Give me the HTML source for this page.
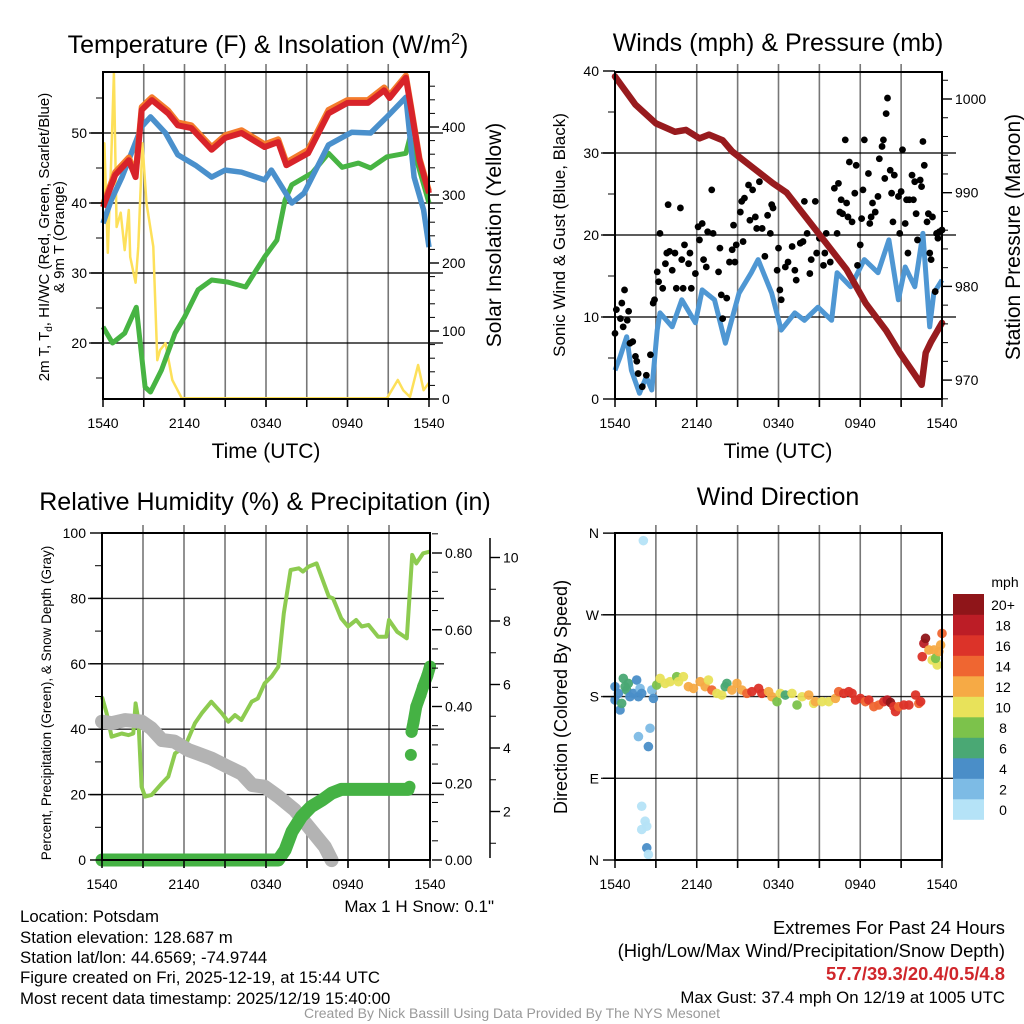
<!DOCTYPE html>
<html><head><meta charset="utf-8"><style>
html,body{margin:0;padding:0;background:#fff;}
svg{display:block;font-family:"Liberation Sans",sans-serif;}
</style></head><body>
<svg id="svg" width="1024" height="1024" viewBox="0 0 1024 1024" xmlns="http://www.w3.org/2000/svg">
<rect width="1024" height="1024" fill="#fff"/>
<g id="g1"></g>
<g id="g2"></g>
<g id="g3"></g>
<g id="g4"></g>
<g id="txt" font-size="16.8" fill="#000">
<text x="268" y="53" font-size="25" text-anchor="middle">Temperature (F) &amp; Insolation (W/m<tspan dy="-9" font-size="16">2</tspan><tspan dy="9">)</tspan></text>
<text x="778" y="51" font-size="25" text-anchor="middle">Winds (mph) &amp; Pressure (mb)</text>
<text x="265" y="510" font-size="25" text-anchor="middle">Relative Humidity (%) &amp; Precipitation (in)</text>
<text x="778" y="505" font-size="25" text-anchor="middle">Wind Direction</text>
<text x="266" y="458" font-size="21" text-anchor="middle">Time (UTC)</text>
<text x="778" y="458" font-size="21" text-anchor="middle">Time (UTC)</text>
<text transform="translate(49,237) rotate(-90)" font-size="15" text-anchor="middle">2m T, T<tspan font-size="10" dy="3">d</tspan><tspan dy="-3">, HI/WC (Red, Green, Scarlet/Blue)</tspan></text>
<text transform="translate(64,237) rotate(-90)" font-size="15" text-anchor="middle">&amp; 9m T (Orange)</text>
<text transform="translate(501,235) rotate(-90)" font-size="21" text-anchor="middle">Solar Insolation (Yellow)</text>
<text transform="translate(565,235) rotate(-90)" font-size="17" text-anchor="middle">Sonic Wind &amp; Gust (Blue, Black)</text>
<text transform="translate(1020,237) rotate(-90)" font-size="21" text-anchor="middle">Station Pressure (Maroon)</text>
<text transform="translate(51,703) rotate(-90)" font-size="13.5" text-anchor="middle">Percent, Precipitation (Green), &amp; Snow Depth (Gray)</text>
<text transform="translate(567,697) rotate(-90)" font-size="18" text-anchor="middle">Direction (Colored By Speed)</text>
<text x="494" y="912" font-size="17" text-anchor="end">Max 1 H Snow: 0.1"</text>
<text x="20" y="922">Location: Potsdam</text>
<text x="20" y="943">Station elevation: 128.687 m</text>
<text x="20" y="963">Station lat/lon: 44.6569; -74.9744</text>
<text x="20" y="983">Figure created on Fri, 2025-12-19, at 15:44 UTC</text>
<text x="20" y="1004">Most recent data timestamp: 2025/12/19 15:40:00</text>
<text x="1005" y="934" font-size="18.4" text-anchor="end">Extremes For Past 24 Hours</text>
<text x="1005" y="957" font-size="18.4" text-anchor="end">(High/Low/Max Wind/Precipitation/Snow Depth)</text>
<text x="1005" y="980" font-size="18.4" font-weight="bold" fill="#d0262b" text-anchor="end">57.7/39.3/20.4/0.5/4.8</text>
<text x="1005" y="1003" font-size="16.8" text-anchor="end">Max Gust: 37.4 mph On 12/19 at 1005 UTC</text>
<text x="512" y="1018" font-size="14" fill="#999" text-anchor="middle">Created By Nick Bassill Using Data Provided By The NYS Mesonet</text>
</g>
</svg>
<script>
// ---------- data ----------
const tempHours = [0,0.9,1.9,2.4,2.85,3.6,4.8,5.5,6.5,8,9,10.2,11.9,12.9,13.5,15.1,16.6,18,19.5,20.7,21.1,22.3,22.7,23.3,24];
const tempValues = [39.4,44,46.1,43.7,53.3,54.7,52.8,51.1,50.7,47.6,49.3,50,48,48.7,45.4,47.1,52.8,54.3,54.3,56.1,55,57.9,53.3,46.1,41.4];
const temp9mValues = [39.8,44.4,46.5,44.1,53.7,55.1,53.2,51.5,51.1,48,49.7,50.4,48.4,49.1,45.8,47.6,53.3,54.7,54.7,56.5,55.4,58.2,53.6,46.4,41.7];
const chillHours = [0,0.6,1.4,2.85,3.5,4.6,5.5,6.8,8,9,10.2,11.9,12.4,13.9,14.8,16.6,18.3,19.7,20.9,22.3,22.9,23.6,24];
const chillValues = [37.1,40.4,43.7,50.9,52.3,50,46.9,45.4,43.7,44.7,44.4,43.3,44.7,40,41.4,48.3,50.1,50,52.3,55.1,43.7,39,33.7];
const dewHours = [0,0.7,1.6,2.45,3.1,3.5,4.3,5.3,6,7,8,9.2,10.5,11.9,12.8,13.4,13.9,15.4,16.6,17.6,18.8,19.7,20.9,22.3,22.6,24];
const dewValues = [22.3,20,21.4,25.1,13.7,13,16.1,21.4,23.7,27.6,29,28.7,28,32.3,34.7,40.4,42.6,44.3,47.1,45.1,45.7,45,46.6,47.1,49.4,40];
const solarHours = [0,0.1,0.35,0.6,0.8,1.0,1.3,1.6,1.9,2.0,2.4,2.6,2.9,3.2,3.7,4.0,4.2,4.6,5.1,5.8,20.9,21.7,22.1,22.6,23.2,23.6,24];
const solarValues = [282,376,215,351,479,253,274,219,278,209,171,224,376,288,224,57,72,82,28,1,1,28,13,3,50,13,24];

const presHours = [0,0.7,1.5,3,4.4,5.2,6.2,6.9,7.9,8.6,10.1,11.6,12.6,14,15.5,17,18.4,19.9,20.9,21.9,22.5,22.8,23.2,24];
const presValues = [1002.4,1001,999.4,997.4,996.5,996.7,995.8,996.2,995.6,994.4,992.7,991,990,987.4,984.6,981.8,978.2,975.3,972.9,970.8,969.5,972.9,974.1,976.1];
const windHours = [0,0.37,0.86,1.2,1.8,2.3,2.7,3.1,3.3,4.2,4.9,5.9,6.4,7.3,8.1,9.1,10,10.5,11.5,12.2,13.2,13.9,14.9,15.9,16.3,17.3,18.3,19.3,20.1,20.8,21.3,22,22.6,23.1,23.4,24];
const windValues = [3.5,5.1,7.6,3.5,0.7,2.7,1.1,8.4,10.5,8.8,12.1,9.3,13.3,12.1,6.8,12.9,15.4,17,12.9,8.4,10.5,9.6,11.2,9.6,15.4,13.7,17,15.4,19.4,12.1,16.1,13.7,20.2,8.8,12.9,14.5];
const gustHours = [0,0.1,0.4,0.6,0.5,0.7,0.9,1.0,1.1,1.3,1.5,1.6,1.7,2.0,2.3,2.6,2.8,2.9,3.1,3.2,3.3,3.5,3.7,3.8,3.9,4.0,4.2,4.4,4.5,4.8,4.9,5.0,5.1,5.4,5.5,5.6,5.9,6.1,6.2,6.4,6.5,6.7,6.8,7.1,7.2,7.6,7.7,7.8,7.9,8.2,8.4,8.6,8.7,8.8,8.9,9.2,9.3,9.4,9.5,9.8,9.9,10.1,10.3,10.4,10.6,10.8,11.0,11.2,11.4,11.5,11.6,11.9,12.0,12.1,12.2,12.5,12.7,13.0,13.2,13.3,13.6,13.8,13.9,14.1,14.3,14.4,14.7,14.8,15.0,15.3,15.4,15.5,15.8,16.1,16.3,16.4,16.5,16.6,16.7,16.9,17.0,17.1,17.2,17.4,17.6,17.7,17.8,18.0,18.1,18.2,18.3,18.6,18.7,18.8,18.9,19.1,19.3,19.4,19.6,19.7,19.8,19.9,20.0,20.2,20.3,20.4,20.5,20.8,20.9,21.0,21.1,21.3,21.4,21.5,21.6,21.8,21.9,22.0,22.1,22.2,22.4,22.5,22.6,22.7,22.9,23.0,23.1,23.2,23.3,23.5,23.6,23.7,23.8,24.0];
const gustValues = [8.0,10.9,9.8,8.8,11.7,13.3,9.6,10.7,6.8,7.0,5.2,4.6,3.1,1.5,2.9,5.4,11.7,12.1,15.5,14.3,20.2,13.5,16.5,17.8,23.7,18.0,15.7,17.8,13.5,23.3,17.0,13.5,18.8,16.5,17.8,13.5,15.3,21.0,19.4,21.4,17.0,16.1,20.4,25.5,20.2,15.5,18.4,12.7,9.8,12.3,16.7,18.2,21.2,16.7,18.8,22.8,24.1,19.2,24.5,26.1,21.8,25.5,22.2,20.8,26.5,20.8,17.4,22.4,20.2,23.7,23.3,15.7,18.4,13.3,12.1,16.1,16.7,18.6,15.7,14.5,19.0,19.2,24.1,20.2,15.3,17.0,24.1,17.8,19.6,16.3,17.8,20.2,16.7,25.7,20.2,26.3,22.8,24.3,22.6,31.6,23.9,22.2,28.9,21.6,25.1,28.5,16.3,18.8,22.0,25.5,31.6,27.5,21.4,22.2,23.9,22.8,24.7,29.3,30.8,31.6,26.9,34.8,36.7,27.9,25.1,21.6,27.3,24.7,20.2,25.3,30.4,21.4,24.3,17.8,24.3,27.3,24.3,26.5,22.6,19.4,26.7,25.9,31.4,28.5,21.6,22.6,17.8,17.0,22.2,13.1,20.2,19.6,20.4,20.6];

const rhHours = [0,0.34,0.7,1.44,1.93,2.29,2.46,2.66,2.9,3.15,3.63,4.37,4.85,5.34,6.07,6.8,7.3,8,8.76,9.24,9.73,10.2,10.95,11.4,11.9,12.4,12.9,13.3,13.8,14.4,14.7,15.1,15.7,16.6,16.9,17.5,18,18.6,19,19.5,20.2,20.8,21,21.6,22.3,22.7,23,23.5,24];
const rhValues = [49.9,44.9,37.7,38.7,38.2,38.7,47.9,42.8,22.4,19.4,19.9,23.4,25.5,32.6,34.7,41.8,44.9,48.4,44.9,42.3,44.3,42.8,48.4,49.4,54,56.1,59.1,75.4,88.7,89.2,88.2,89.7,90.7,80.5,80,73.9,71.4,73.4,71.4,71.9,68.3,68.3,73.4,69.8,67.8,93.3,90.7,93.8,94.3];
const precipHours = [0,2,4,6,8,10,12,12.9,13.4,13.9,14.6,15.3,16.1,16.8,17.5,19,20.5,22.4];
const precipValues = [0,0,0,0,0,0,0,0,0.026,0.074,0.113,0.139,0.156,0.174,0.184,0.184,0.184,0.184];
const precipLateHours = [22.5,22.6,22.65,22.8,23.0,23.3,23.5,23.8,24];
const precipLateValues = [0.191,0.274,0.334,0.36,0.4,0.43,0.452,0.48,0.504];
const snowHours = [0,0.7,1.7,2.9,3.6,4.4,5.3,6.3,7.0,8.0,9.2,10.2,11.0,11.9,12.9,14.1,15.3,16.3,16.8];
const snowValues = [4.83,4.78,4.88,4.83,4.62,4.25,4.2,3.94,3.83,3.67,3.41,3.2,2.83,2.78,2.47,2.05,1.42,0.89,0.47];

const dirHours = [2.08,0,0,0.25,0.37,0.49,0.61,0.74,0.86,0.98,1.1,1.35,1.59,1.72,1.84,1.96,2.7,2.82,1.72,2.57,2.45,1.96,2.21,2.33,1.96,2.33,2.45,3.06,3.31,3.68,4.04,4.53,4.66,5.02,5.39,5.76,6.25,6.62,6.86,7.11,7.48,7.84,8.09,8.21,8.58,8.95,9.31,9.68,10.05,10.54,10.78,11.27,11.52,11.89,12.13,12.5,12.99,13.36,13.73,14.22,14.58,14.71,15.2,15.69,16.18,16.42,16.79,17.16,17.4,17.65,18.01,18.38,18.63,19.0,19.36,19.73,19.98,20.22,20.47,20.59,20.83,21.2,21.57,22.06,22.3,22.43,22.55,22.67,22.79,23.04,23.41,23.28,23.65,23.53,23.77,23.9,24];
const dirValues = [351.7,190.9,176.2,183.5,165.2,172.5,200,190.9,187.2,194.5,179.8,183.5,198.2,179.8,189.0,183.5,187.2,178.0,135.9,145.1,124.9,59.2,42.7,37.2,33.6,13.4,6.1,192.7,200,194.5,196.4,201.9,196.4,201.9,190.9,189.0,196.4,190.9,198.2,187.2,183.5,181.7,190.9,194.5,187.2,194.5,187.2,183.5,185.4,189.0,183.5,185.4,179.8,174.4,183.5,181.7,183.5,170.7,179.8,181.7,172.5,174.4,174.4,174.4,178.0,185.4,183.5,185.4,183.5,176.2,178.0,174.4,176.2,168.9,170.7,174.4,176.2,173.5,168.9,163.4,168.9,170.7,170.7,181.7,172.5,174.4,223.9,238.6,244.1,231.3,231.3,220.3,214.8,222.1,229.5,236.8,249.6];
const dirSpeeds = [0,4,4,4,4,6,6,6,6,6,4,4,4,4,2,4,2,4,2,2,4,0,0,0,0,4,0,8,10,10,10,8,10,10,12,12,12,12,10,14,10,10,6,6,12,12,12,14,16,16,16,12,12,8,10,6,10,8,10,12,10,12,10,10,12,14,16,16,16,16,16,14,16,14,14,16,18,20,16,16,14,16,16,16,14,16,16,18,20,12,12,10,10,8,12,12,14];
const speedLabels = ["0","2","4","6","8","10","12","14","16","18","20+"];
const speedColors = ["#b5e3f7","#7dbbe5","#4a8ec8","#4aa874","#7cc24b","#e8e25a","#f6aa45","#ef6631","#dc3329","#bc1d26","#8f1519"];

// ---------- helpers ----------
const NS = "http://www.w3.org/2000/svg";
function mk(parent, tag, attrs) {
  const e = document.createElementNS(NS, tag);
  for (const k in attrs) e.setAttribute(k, attrs[k]);
  parent.appendChild(e);
  return e;
}
function txt(parent, x, y, s, anchor, size) {
  const t = mk(parent, "text", {x: x, y: y, "text-anchor": anchor, "font-size": size || 14});
  t.textContent = s;
  return t;
}
function tx(P, h) { return P.x0 + h / 24 * (P.x1 - P.x0); }
function pathFrom(P, hs, vs, fy) {
  let d = "";
  for (let i = 0; i < hs.length; i++) d += (i ? "L" : "M") + tx(P, hs[i]).toFixed(1) + "," + fy(vs[i]).toFixed(1);
  return d;
}
function frame(g, P, hLines) {
  for (let h = 3; h < 24; h += 3) {
    const l = mk(g, "line", {x1: tx(P, h), x2: tx(P, h), y1: P.y0 - 8, y2: P.y1 + 8, stroke: "#777", "stroke-width": 1.6});
    
    
  }
  hLines.forEach(y => {
    const l = mk(g, "line", {x1: P.x0 - 14, x2: P.x1 + 14, y1: y, y2: y, stroke: "#000", "stroke-width": 1.4, opacity: 0.85});
    
    
  });
  const labs = ["1540", "2140", "0340", "0940", "1540"];
  labs.forEach((s, i) => {
    const t = txt(g, tx(P, i * 6), P.y1 + 29, s, "middle", 14);
    
    
  });
}
function border(g, P) {
  const r = mk(g, "rect", {x: P.x0, y: P.y0, width: P.x1 - P.x0, height: P.y1 - P.y0, fill: "none", stroke: "#000", "stroke-width": 2});
  
  
  for (let h = 0; h <= 24; h += 3) mk(g, "line", {x1: tx(P, h), x2: tx(P, h), y1: P.y1, y2: P.y1 + 8, stroke: "#000", "stroke-width": 1.5});
}
function yTicks(g, x, ys, labels, side, fy, minor) {
  ys.forEach((v, i) => {
    const y = fy(v);
    mk(g, "line", {x1: x, x2: x + (side === "left" ? -12 : 10), y1: y, y2: y, stroke: "#000", "stroke-width": 1.4});
    const t = txt(g, side === "left" ? x - 16 : x + 13, y + 5, labels[i], side === "left" ? "end" : "start", 14);
    
    
  });
  (minor || []).forEach(v => {
    const y = fy(v);
    mk(g, "line", {x1: x, x2: x + (side === "left" ? -7 : 6), y1: y, y2: y, stroke: "#000", "stroke-width": 1});
  });
}

// ---------- panel 1 ----------
(function () {
  const g = document.getElementById("g1");
  const P = {x0: 103, x1: 429, y0: 72, y1: 399};
  const fT = t => 133 + (50 - t) * 7;
  const fS = v => 399 - v * 0.68;
  frame(g, P, [20, 30, 40, 50].map(fT));
  const ys = mk(g, "path", {d: pathFrom(P, solarHours, solarValues, fS), fill: "none", stroke: "#fde05a", "stroke-width": 2.5, "stroke-linejoin": "round"});
   
  const gd = mk(g, "path", {d: pathFrom(P, dewHours, dewValues, fT), fill: "none", stroke: "#47b443", "stroke-width": 5, "stroke-linejoin": "round"});
   
  const bl = mk(g, "path", {d: pathFrom(P, chillHours, chillValues, fT), fill: "none", stroke: "#4a90cc", "stroke-width": 5.5, "stroke-linejoin": "round"});
   
  const or = mk(g, "path", {d: pathFrom(P, tempHours, temp9mValues, fT), fill: "none", stroke: "#f47c2c", "stroke-width": 6, "stroke-linejoin": "round"});
   
  const rd = mk(g, "path", {d: pathFrom(P, tempHours, tempValues, fT), fill: "none", stroke: "#d8232a", "stroke-width": 6, "stroke-linejoin": "round"});
   
  border(g, P);
  yTicks(g, P.x0, [20, 30, 40, 50], ["20", "30", "40", "50"], "left", fT, [15, 25, 35, 45, 55]);
  yTicks(g, P.x1, [0, 100, 200, 300, 400], ["0", "100", "200", "300", "400"], "right", fS, [20,40,60,80,120,140,160,180,220,240,260,280,320,340,360,380,420,440,460]);
})();

// ---------- panel 2 ----------
(function () {
  const g = document.getElementById("g2");
  const P = {x0: 615, x1: 942, y0: 72, y1: 399};
  const fW = v => 399 - v * 8.2;
  const fP = p => 99 + (1000 - p) * 9.37;
  frame(g, P, [10, 20, 30].map(fW));
  const bl = mk(g, "path", {d: pathFrom(P, windHours, windValues, fW), fill: "none", stroke: "#4f97d3", "stroke-width": 5, "stroke-linejoin": "round"});
   
  gustHours.forEach((h, i) => {
    const c = mk(g, "circle", {cx: tx(P, h), cy: fW(gustValues[i]), r: 3.4, fill: "#000"});
    
    
  });
  const pr = mk(g, "path", {d: pathFrom(P, presHours, presValues, fP), fill: "none", stroke: "#981b1e", "stroke-width": 6.5, "stroke-linejoin": "round", "stroke-linecap": "round"});
   
  border(g, P);
  yTicks(g, P.x0, [0, 10, 20, 30, 40], ["0", "10", "20", "30", "40"], "left", fW, [5, 15, 25, 35]);
  yTicks(g, P.x1, [970, 980, 990, 1000], ["970", "980", "990", "1000"], "right", fP, [968,972,974,976,978,982,984,986,988,992,994,996,998,1002]);
})();

// ---------- panel 3 ----------
(function () {
  const g = document.getElementById("g3");
  const P = {x0: 102, x1: 430, y0: 533, y1: 860};
  const fR = r => 860 - r * 3.27;
  const fPr = p => 860 - p * 383.75;
  const fSn = s => 875 - s * 31.75;
  frame(g, P, [20, 40, 60, 80].map(fR));
  const rh = mk(g, "path", {d: pathFrom(P, rhHours, rhValues, fR), fill: "none", stroke: "#8dcb50", "stroke-width": 4, "stroke-linejoin": "round"});
   
  const sn = mk(g, "path", {d: pathFrom(P, snowHours, snowValues, fSn), fill: "none", stroke: "#b3b3b3", "stroke-width": 14, "stroke-linejoin": "round", "stroke-linecap": "round"});
   
  const pc = mk(g, "path", {d: pathFrom(P, precipHours, precipValues, fPr), fill: "none", stroke: "#45b244", "stroke-width": 13, "stroke-linejoin": "round", "stroke-linecap": "round"});
   
  precipLateHours.forEach((h, i) => {
    const c = mk(g, "circle", {cx: tx(P, h), cy: fPr(precipLateValues[i]), r: 6, fill: "#45b244"});
    
    
  });
  const lp = mk(g, "path", {d: pathFrom(P, precipLateHours.slice(2), precipLateValues.slice(2), fPr), fill: "none", stroke: "#45b244", "stroke-width": 12, "stroke-linecap": "round"});
   
  border(g, P);
  yTicks(g, P.x0, [0, 20, 40, 60, 80, 100], ["0", "20", "40", "60", "80", "100"], "left", fR, [10, 30, 50, 70, 90]);
  yTicks(g, 432, [0, 0.2, 0.4, 0.6, 0.8], ["0.00", "0.20", "0.40", "0.60", "0.80"], "right", fPr, [0.05,0.1,0.15,0.25,0.3,0.35,0.45,0.5,0.55,0.65,0.7,0.75,0.85]);
  mk(g, "line", {x1: 490, x2: 490, y1: 538, y2: 858, stroke: "#000", "stroke-width": 1.5});
  yTicks(g, 490, [2, 4, 6, 8, 10], ["2", "4", "6", "8", "10"], "right", fSn, [1, 3, 5, 7, 9]);
})();

// ---------- panel 4 ----------
(function () {
  const g = document.getElementById("g4");
  const P = {x0: 615, x1: 942, y0: 533, y1: 860};
  const fD = d => 860 - d * 0.908;
  frame(g, P, [90, 180, 270].map(fD));
  function bucket(s) { return Math.max(0, Math.min(10, Math.round(s / 2))); }
  dirHours.forEach((h, i) => {
    const c = mk(g, "circle", {cx: tx(P, h), cy: fD(dirValues[i]), r: 4.8, fill: speedColors[bucket(dirSpeeds[i])], opacity: 0.95});
    
    
  });
  border(g, P);
  yTicks(g, P.x0, [0, 90, 180, 270, 360], ["N", "E", "S", "W", "N"], "left", fD, []);
  const t = txt(g, 1005, 587, "mph", "middle", 14);
  
  
  for (let i = 0; i < speedColors.length; i++) {
    const y = 594 + (10 - i) * 20.5;
    const r = mk(g, "rect", {x: 953, y: y, width: 31, height: 20.8, fill: speedColors[i]});
    
    
    const l = txt(g, 1003, y + 16, speedLabels[i], "middle", 14);
    
    
  }
})();
</script>
</body></html>
